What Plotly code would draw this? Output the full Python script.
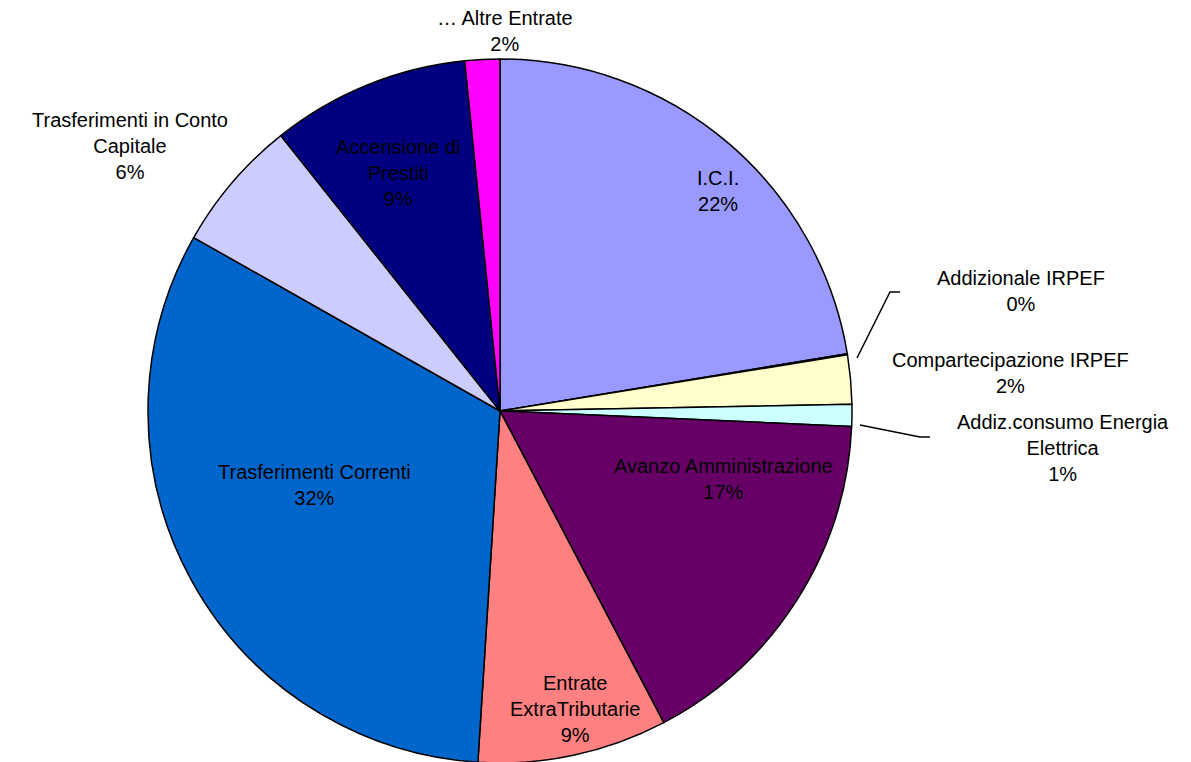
import plotly.graph_objects as go

labels = ["I.C.I.", "Addizionale IRPEF", "Compartecipazione IRPEF",
          "Addiz.consumo Energia Elettrica", "Avanzo Amministrazione",
          "Entrate ExtraTributarie", "Trasferimenti Correnti",
          "Trasferimenti in Conto Capitale", "Accensione di Prestiti",
          "… Altre Entrate"]
values = [22.4, 0.05, 2.25, 1.0, 16.6, 8.7, 32.2, 6.1, 9.1, 1.6]
colors = ["#9999FF", "#993366", "#FFFFCC", "#CCFFFF", "#660066",
          "#FF8080", "#0066CC", "#CCCCFF", "#000080", "#FF00FF"]
# displayed label text (line breaks as in the original)
label_lines = ["I.C.I.", "Addizionale IRPEF", "Compartecipazione IRPEF",
               "Addiz.consumo Energia<br>Elettrica", "Avanzo Amministrazione",
               "Entrate<br>ExtraTributarie", "Trasferimenti Correnti",
               "Trasferimenti in Conto<br>Capitale", "Accensione di<br>Prestiti",
               "… Altre Entrate"]
# label centre positions in pixels (x, y from top)
label_pos = [(710, 183), (1013, 283), (1002, 365), (1055, 440), (715, 471),
             (567, 701), (306, 477), (122, 138), (390, 165), (497, 23)]

W, H = 1191, 762
cx, cy, r = 492, 403, 352   # domain centre (compensates plotly's offset)

fig = go.Figure(go.Pie(
    labels=labels, values=values, sort=False, direction="clockwise",
    rotation=0, textinfo="none", hoverinfo="label+percent",
    marker=dict(colors=colors, line=dict(color="black", width=1.5)),
    domain=dict(x=[(cx - r) / W, (cx + r) / W], y=[(H - cy - r) / H, (H - cy + r) / H]),
    showlegend=False,
))

total = sum(values)
for lab, v, (px, py) in zip(label_lines, values, label_pos):
    pct = round(100 * v / total)
    fig.add_annotation(x=px / W, y=1 - py / H, xref="paper", yref="paper",
                       text=f"{lab}<br>{pct}%", showarrow=False, align="center",
                       font=dict(family="Liberation Sans, Arial", size=20, color="black"),
                       xanchor="center", yanchor="middle")

# leader lines
def pline(pts):
    path = "M " + " L ".join(f"{x / W},{1 - y / H}" for x, y in pts)
    fig.add_shape(type="path", path=path, xref="paper", yref="paper",
                  line=dict(color="black", width=1.5))

pline([(849, 350), (882, 284), (892, 284)])
pline([(852, 417), (912, 429), (922, 429)])

fig.update_layout(width=W, height=H, margin=dict(l=0, r=0, t=0, b=0),
                  paper_bgcolor="white", plot_bgcolor="white")
fig.write_html("out.html")
